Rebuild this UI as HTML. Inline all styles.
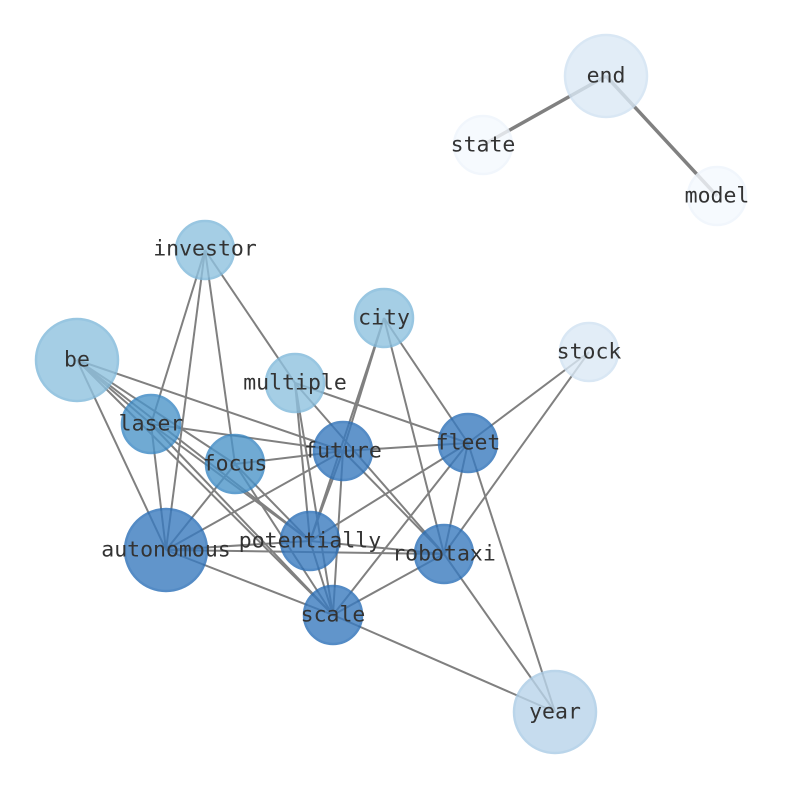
<!DOCTYPE html>
<html><head><meta charset="utf-8"><style>body{margin:0;background:#fff}svg{display:block}text{font-family:"DejaVu Sans Mono","Liberation Mono",monospace;font-size:21.5px;fill:#333;text-anchor:middle;dominant-baseline:central}</style></head>
<body>
<svg width="794" height="790" viewBox="0 0 794 790">
<g stroke="#808080" stroke-width="2">
<line x1="606" y1="76" x2="483" y2="145" stroke-width="3.5"/>
<line x1="606" y1="76" x2="717" y2="196" stroke-width="3.5"/>
<line x1="205" y1="250" x2="151" y2="424"/>
<line x1="205" y1="250" x2="166" y2="550"/>
<line x1="205" y1="250" x2="235" y2="464"/>
<line x1="205" y1="250" x2="295" y2="383"/>
<line x1="77" y1="360" x2="166" y2="550"/>
<line x1="77" y1="360" x2="151" y2="424"/>
<line x1="77" y1="360" x2="310" y2="541"/>
<line x1="77" y1="360" x2="333" y2="615"/>
<line x1="77" y1="360" x2="343" y2="451"/>
<line x1="77" y1="360" x2="235" y2="464"/>
<line x1="151" y1="424" x2="343" y2="451"/>
<line x1="151" y1="424" x2="310" y2="541"/>
<line x1="151" y1="424" x2="166" y2="550"/>
<line x1="151" y1="424" x2="333" y2="615"/>
<line x1="235" y1="464" x2="343" y2="451"/>
<line x1="235" y1="464" x2="166" y2="550"/>
<line x1="235" y1="464" x2="333" y2="615"/>
<line x1="235" y1="464" x2="310" y2="541"/>
<line x1="343" y1="451" x2="468" y2="443"/>
<line x1="343" y1="451" x2="310" y2="541"/>
<line x1="343" y1="451" x2="333" y2="615"/>
<line x1="343" y1="451" x2="166" y2="550"/>
<line x1="343" y1="451" x2="444" y2="554"/>
<line x1="384" y1="318" x2="343" y2="451"/>
<line x1="384" y1="318" x2="310" y2="541"/>
<line x1="384" y1="318" x2="444" y2="554"/>
<line x1="384" y1="318" x2="468" y2="443"/>
<line x1="295" y1="383" x2="468" y2="443"/>
<line x1="295" y1="383" x2="310" y2="541"/>
<line x1="295" y1="383" x2="333" y2="615"/>
<line x1="295" y1="383" x2="444" y2="554"/>
<line x1="468" y1="443" x2="589" y2="352"/>
<line x1="468" y1="443" x2="444" y2="554"/>
<line x1="468" y1="443" x2="310" y2="541"/>
<line x1="468" y1="443" x2="333" y2="615"/>
<line x1="468" y1="443" x2="555" y2="712"/>
<line x1="166" y1="550" x2="310" y2="541"/>
<line x1="166" y1="550" x2="444" y2="554"/>
<line x1="166" y1="550" x2="333" y2="615"/>
<line x1="310" y1="541" x2="444" y2="554"/>
<line x1="310" y1="541" x2="333" y2="615"/>
<line x1="444" y1="554" x2="333" y2="615"/>
<line x1="444" y1="554" x2="555" y2="712"/>
<line x1="589" y1="352" x2="444" y2="554"/>
<line x1="333" y1="615" x2="555" y2="712"/>
</g>
<g stroke-width="2.5" opacity="0.8">
<circle cx="606" cy="76" r="41" fill="#dbe9f6" stroke="#d0e2f2"/>
<circle cx="483" cy="145" r="29" fill="#f5f9fe" stroke="#eef5fc"/>
<circle cx="717" cy="196" r="29" fill="#f5f9fe" stroke="#eef5fc"/>
<circle cx="205" cy="250" r="29" fill="#8fc2df" stroke="#7fb8da"/>
<circle cx="384" cy="318" r="29" fill="#8fc2df" stroke="#7fb8da"/>
<circle cx="77" cy="360" r="41" fill="#8fc2df" stroke="#7fb8da"/>
<circle cx="589" cy="352" r="29" fill="#dbe9f6" stroke="#d0e2f2"/>
<circle cx="295" cy="383" r="29" fill="#8fc2df" stroke="#7fb8da"/>
<circle cx="151" cy="424" r="29" fill="#4d95c9" stroke="#3a88c4"/>
<circle cx="235" cy="464" r="29" fill="#4d95c9" stroke="#3a88c4"/>
<circle cx="468" cy="443" r="29" fill="#3a7bbf" stroke="#2a6fb7"/>
<circle cx="343" cy="451" r="29" fill="#3a7bbf" stroke="#2a6fb7"/>
<circle cx="166" cy="550" r="41" fill="#3a7bbf" stroke="#2a6fb7"/>
<circle cx="310" cy="541" r="29" fill="#3a7bbf" stroke="#2a6fb7"/>
<circle cx="444" cy="554" r="29" fill="#3a7bbf" stroke="#2a6fb7"/>
<circle cx="333" cy="615" r="29" fill="#3a7bbf" stroke="#2a6fb7"/>
<circle cx="555" cy="712" r="41" fill="#b9d4ea" stroke="#aacbe6"/>
</g>
<text x="606" y="76">end</text>
<text x="483" y="145">state</text>
<text x="717" y="196">model</text>
<text x="205" y="249">investor</text>
<text x="384" y="318">city</text>
<text x="77" y="360">be</text>
<text x="589" y="352">stock</text>
<text x="295" y="383">multiple</text>
<text x="151" y="424">laser</text>
<text x="468" y="443">fleet</text>
<text x="343" y="451">future</text>
<text x="235" y="464">focus</text>
<text x="166" y="550">autonomous</text>
<text x="310" y="541">potentially</text>
<text x="444" y="554">robotaxi</text>
<text x="333" y="615">scale</text>
<text x="555" y="712">year</text>
</svg>
</body></html>
